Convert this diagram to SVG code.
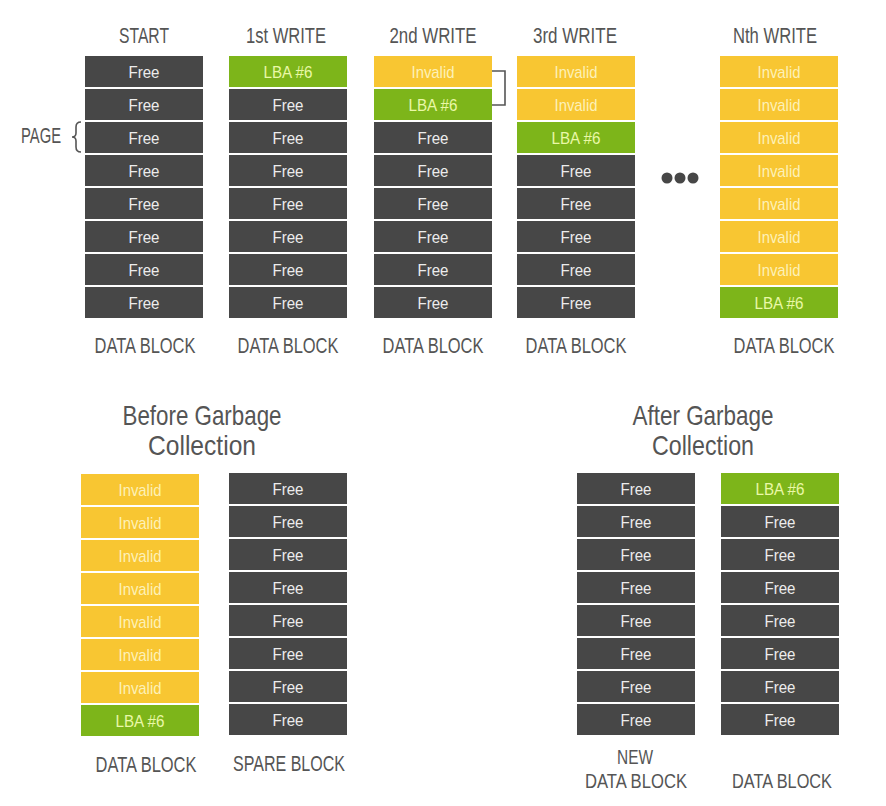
<svg xmlns="http://www.w3.org/2000/svg" width="886" height="806" viewBox="0 0 886 806">
<style>
text{font-family:"Liberation Sans",Arial,sans-serif;text-anchor:middle}
.f rect{fill:#474747}.f text{fill:#ececec;font-size:17px}
.i rect{fill:#f8c632}.i text{fill:#fdf1b8;font-size:17px}
.l rect{fill:#7db51a}.l text{fill:#eaf8a8;font-size:17px}
text.t{font-size:22px;fill:#555}
text.s{font-size:20px;fill:#555}
text.h{font-size:28px;fill:#555}
.cn{fill:none;stroke:#555;stroke-width:1.6}
</style>
<defs>
<g id="F" class="f"><rect width="118" height="31"/><text x="59" y="22" textLength="31" lengthAdjust="spacingAndGlyphs">Free</text></g>
<g id="I" class="i"><rect width="118" height="31"/><text x="59" y="22" textLength="43" lengthAdjust="spacingAndGlyphs">Invalid</text></g>
<g id="L" class="l"><rect width="118" height="31"/><text x="59" y="22" textLength="49" lengthAdjust="spacingAndGlyphs">LBA #6</text></g>
</defs>
<rect width="886" height="806" fill="#fff"/>

<g id="start" transform="translate(85,56)">
<text class="t" x="59" y="-13" textLength="50" lengthAdjust="spacingAndGlyphs">START</text>
<use href="#F" y="0"/><use href="#F" y="33"/><use href="#F" y="66"/><use href="#F" y="99"/><use href="#F" y="132"/><use href="#F" y="165"/><use href="#F" y="198"/><use href="#F" y="231"/>
<text class="t" x="60" y="297" textLength="101" lengthAdjust="spacingAndGlyphs">DATA BLOCK</text>
</g>
<g id="write1" transform="translate(229,56)">
<text class="t" x="57" y="-13" textLength="80" lengthAdjust="spacingAndGlyphs">1st WRITE</text>
<use href="#L" y="0"/><use href="#F" y="33"/><use href="#F" y="66"/><use href="#F" y="99"/><use href="#F" y="132"/><use href="#F" y="165"/><use href="#F" y="198"/><use href="#F" y="231"/>
<text class="t" x="59" y="297" textLength="101" lengthAdjust="spacingAndGlyphs">DATA BLOCK</text>
</g>
<g id="write2" transform="translate(374,56)">
<text class="t" x="59" y="-13" textLength="87" lengthAdjust="spacingAndGlyphs">2nd WRITE</text>
<use href="#I" y="0"/><use href="#L" y="33"/><use href="#F" y="66"/><use href="#F" y="99"/><use href="#F" y="132"/><use href="#F" y="165"/><use href="#F" y="198"/><use href="#F" y="231"/>
<text class="t" x="59" y="297" textLength="101" lengthAdjust="spacingAndGlyphs">DATA BLOCK</text>
</g>
<g id="write3" transform="translate(517,56)">
<text class="t" x="58" y="-13" textLength="84" lengthAdjust="spacingAndGlyphs">3rd WRITE</text>
<use href="#I" y="0"/><use href="#I" y="33"/><use href="#L" y="66"/><use href="#F" y="99"/><use href="#F" y="132"/><use href="#F" y="165"/><use href="#F" y="198"/><use href="#F" y="231"/>
<text class="t" x="59" y="297" textLength="101" lengthAdjust="spacingAndGlyphs">DATA BLOCK</text>
</g>
<g id="dots" fill="#474747">
<circle cx="667" cy="178" r="5.5"/><circle cx="680" cy="178" r="5.5"/><circle cx="693" cy="178" r="5.5"/>
</g>
<g id="writeN" transform="translate(720,56)">
<text class="t" x="55" y="-13" textLength="84" lengthAdjust="spacingAndGlyphs">Nth WRITE</text>
<use href="#I" y="0"/><use href="#I" y="33"/><use href="#I" y="66"/><use href="#I" y="99"/><use href="#I" y="132"/><use href="#I" y="165"/><use href="#I" y="198"/><use href="#L" y="231"/>
<text class="t" x="64" y="297" textLength="101" lengthAdjust="spacingAndGlyphs">DATA BLOCK</text>
</g>
<g id="page">
<text class="t" x="41" y="143" textLength="40" lengthAdjust="spacingAndGlyphs">PAGE</text>
<path class="cn" stroke-width="1.1" d="M81,122 Q76,122 76,127 L76,133 Q76,137 72,137 Q76,137 76,141 L76,147 Q76,152 81,152"/>
</g>

<g id="before-title">
<text class="h" x="202" y="425" textLength="159" lengthAdjust="spacingAndGlyphs">Before Garbage</text>
<text class="h" x="202" y="455" textLength="108" lengthAdjust="spacingAndGlyphs">Collection</text>
</g>
<g id="before-data" transform="translate(81,474)">
<use href="#I" y="0"/><use href="#I" y="33"/><use href="#I" y="66"/><use href="#I" y="99"/><use href="#I" y="132"/><use href="#I" y="165"/><use href="#I" y="198"/><use href="#L" y="231"/>
<text class="t" x="65" y="298" textLength="101" lengthAdjust="spacingAndGlyphs">DATA BLOCK</text>
</g>
<g id="spare" transform="translate(229,473)">
<use href="#F" y="0"/><use href="#F" y="33"/><use href="#F" y="66"/><use href="#F" y="99"/><use href="#F" y="132"/><use href="#F" y="165"/><use href="#F" y="198"/><use href="#F" y="231"/>
<text class="t" x="60" y="298" textLength="112" lengthAdjust="spacingAndGlyphs">SPARE BLOCK</text>
</g>
<g id="after-title">
<text class="h" x="703" y="425" textLength="141" lengthAdjust="spacingAndGlyphs">After Garbage</text>
<text class="h" x="703" y="455" textLength="102" lengthAdjust="spacingAndGlyphs">Collection</text>
</g>
<g id="new-data" transform="translate(577,473)">
<use href="#F" y="0"/><use href="#F" y="33"/><use href="#F" y="66"/><use href="#F" y="99"/><use href="#F" y="132"/><use href="#F" y="165"/><use href="#F" y="198"/><use href="#F" y="231"/>
<text class="s" x="58" y="291" textLength="36" lengthAdjust="spacingAndGlyphs">NEW</text>
<text class="s" x="59" y="315" textLength="102" lengthAdjust="spacingAndGlyphs">DATA BLOCK</text>
</g>
<g id="after-data" transform="translate(721,473)">
<use href="#L" y="0"/><use href="#F" y="33"/><use href="#F" y="66"/><use href="#F" y="99"/><use href="#F" y="132"/><use href="#F" y="165"/><use href="#F" y="198"/><use href="#F" y="231"/>
<text class="s" x="61" y="315" textLength="100" lengthAdjust="spacingAndGlyphs">DATA BLOCK</text>
</g>

<g id="connectors">
<path class="cn" d="M492,71 H505 V105 H492"/>
</g>
</svg>
